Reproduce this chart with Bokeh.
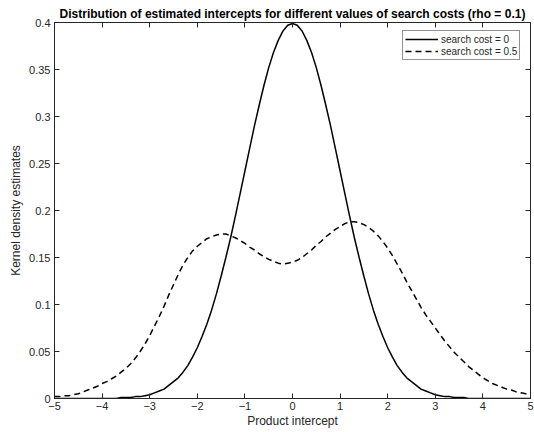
from bokeh.plotting import figure
from bokeh.models import (LinearAxis, FixedTicker, CustomJSTickFormatter, Legend,
                          LegendItem, Range1d, ColumnDataSource)
from bokeh.embed import file_html
from bokeh.resources import INLINE

# ---- data ----
x_vals = [-5.0, -4.9, -4.8, -4.7, -4.6, -4.5, -4.4, -4.3, -4.2, -4.1,
          -4.0, -3.9, -3.8, -3.7, -3.6, -3.5, -3.4, -3.3, -3.2, -3.1,
          -3.0, -2.9, -2.8, -2.7, -2.6, -2.5, -2.4, -2.3, -2.2, -2.1,
          -2.0, -1.9, -1.8, -1.7, -1.6, -1.5, -1.4, -1.3, -1.2, -1.1,
          -1.0, -0.9, -0.8, -0.7, -0.6, -0.5, -0.4, -0.3, -0.2, -0.1,
          0.0, 0.1, 0.2, 0.3, 0.4, 0.5, 0.6, 0.7, 0.8, 0.9,
          1.0, 1.1, 1.2, 1.3, 1.4, 1.5, 1.6, 1.7, 1.8, 1.9,
          2.0, 2.1, 2.2, 2.3, 2.4, 2.5, 2.6, 2.7, 2.8, 2.9,
          3.0, 3.1, 3.2, 3.3, 3.4, 3.5, 3.6, 3.7, 3.8, 3.9,
          4.0, 4.1, 4.2, 4.3, 4.4, 4.5, 4.6, 4.7, 4.8, 4.9, 5.0]

cost0_density = [0.000, 0.000, 0.000, 0.000, 0.000, 0.000, 0.000, 0.000, 0.000, 0.000,
                 0.000, 0.000, 0.000, 0.000, 0.001, 0.001, 0.001, 0.002, 0.002, 0.003,
                 0.004, 0.006, 0.008, 0.010, 0.014, 0.018, 0.022, 0.028, 0.035, 0.044,
                 0.054, 0.066, 0.079, 0.094, 0.111, 0.130, 0.150, 0.171, 0.194, 0.218,
                 0.242, 0.266, 0.290, 0.312, 0.333, 0.352, 0.368, 0.381, 0.391, 0.397,
                 0.399, 0.397, 0.391, 0.381, 0.368, 0.352, 0.333, 0.312, 0.290, 0.266,
                 0.242, 0.218, 0.194, 0.171, 0.150, 0.130, 0.111, 0.094, 0.079, 0.066,
                 0.054, 0.044, 0.035, 0.028, 0.022, 0.018, 0.014, 0.010, 0.008, 0.006,
                 0.004, 0.003, 0.002, 0.002, 0.001, 0.001, 0.001, 0.000, 0.000, 0.000,
                 0.000, 0.000, 0.000, 0.000, 0.000, 0.000, 0.000, 0.000, 0.000, 0.000, 0.000]

cost05_density = [0.002, 0.002, 0.003, 0.003, 0.004, 0.005, 0.007, 0.009, 0.011, 0.013,
                  0.016, 0.018, 0.021, 0.024, 0.028, 0.032, 0.037, 0.043, 0.050, 0.058,
                  0.067, 0.077, 0.087, 0.098, 0.110, 0.121, 0.132, 0.142, 0.150, 0.157,
                  0.162, 0.166, 0.170, 0.172, 0.174, 0.175, 0.175, 0.173, 0.171, 0.168,
                  0.165, 0.161, 0.158, 0.154, 0.151, 0.148, 0.146, 0.144, 0.143, 0.144,
                  0.145, 0.147, 0.150, 0.154, 0.158, 0.163, 0.167, 0.172, 0.176, 0.180,
                  0.183, 0.186, 0.188, 0.188, 0.187, 0.185, 0.182, 0.178, 0.173, 0.167,
                  0.160, 0.152, 0.143, 0.134, 0.124, 0.115, 0.106, 0.097, 0.089, 0.082,
                  0.075, 0.068, 0.061, 0.055, 0.049, 0.044, 0.039, 0.034, 0.030, 0.026,
                  0.022, 0.019, 0.016, 0.014, 0.012, 0.010, 0.009, 0.007, 0.006, 0.005, 0.004]

x_ticks = [-5, -4, -3, -2, -1, 0, 1, 2, 3, 4, 5]
y_ticks = [0, 0.05, 0.1, 0.15, 0.2, 0.25, 0.3, 0.35, 0.4]

series_labels = ["search cost = 0", "search cost = 0.5"]
title_text = "Distribution of estimated intercepts for different values of search costs (rho = 0.1)"
x_label = "Product intercept"
y_label = "Kernel density estimates"

FONT = "Liberation Sans"
AXC = "#262626"

p = figure(width=534, height=432, x_range=Range1d(-5, 5), y_range=Range1d(0, 0.4),
           output_backend="svg", toolbar_location=None,
           min_border_left=54, min_border_right=4, min_border_top=22, min_border_bottom=34)

p.title.text = title_text
p.title.text_font = FONT
p.title.text_font_size = "12px"
p.title.text_font_style = "bold"
p.title.text_color = "black"
p.title.align = "center"
p.title.standoff = 3
p.title.offset = 0

p.xgrid.visible = False
p.ygrid.visible = False
p.outline_line_color = AXC
p.outline_line_width = 1
p.background_fill_color = "white"
p.border_fill_color = "white"

yfmt = CustomJSTickFormatter(code="""
var s = tick.toFixed(2);
if (s.indexOf('.') >= 0) { s = s.replace(/0+$/, '').replace(/\\.$/, ''); }
return s;
""")
blankfmt = CustomJSTickFormatter(code="return '';")

def style_axis(ax):
    ax.major_tick_in = 5
    ax.major_tick_out = 0
    ax.minor_tick_in = 0
    ax.minor_tick_out = 0
    ax.axis_line_color = AXC
    ax.major_tick_line_color = AXC
    ax.major_label_text_font = FONT
    ax.major_label_text_font_size = "11px"
    ax.major_label_text_color = AXC
    ax.axis_label_text_font = FONT
    ax.axis_label_text_font_size = "12px"
    ax.axis_label_text_font_style = "normal"
    ax.axis_label_text_color = AXC

xa = p.xaxis[0]
xa.ticker = FixedTicker(ticks=x_ticks)
style_axis(xa)
xa.axis_label = x_label
xa.major_label_standoff = 3
xa.axis_label_standoff = 1

ya = p.yaxis[0]
ya.ticker = FixedTicker(ticks=y_ticks)
ya.formatter = yfmt
style_axis(ya)
ya.axis_label = y_label
ya.major_label_standoff = 4
ya.axis_label_standoff = 3

top = LinearAxis(ticker=FixedTicker(ticks=x_ticks), formatter=blankfmt)
style_axis(top)
top.major_label_standoff = 0
top.major_label_text_font_size = "1px"
p.add_layout(top, "above")
right = LinearAxis(ticker=FixedTicker(ticks=y_ticks), formatter=blankfmt)
style_axis(right)
right.major_label_standoff = 0
right.major_label_text_font_size = "1px"
p.add_layout(right, "right")

src = ColumnDataSource(dict(x=x_vals, s0=cost0_density, s1=cost05_density))
r0 = p.line("x", "s0", source=src, line_color="black", line_width=1.5)
r1 = p.line("x", "s1", source=src, line_color="black", line_width=1.5, line_dash="6 4")

legend = Legend(items=[LegendItem(label=series_labels[0], renderers=[r0]),
                       LegendItem(label=series_labels[1], renderers=[r1])],
                location=(348, 338))
legend.margin = 0
legend.padding = 2
legend.spacing = 0
legend.label_height = 12
legend.glyph_height = 12
legend.glyph_width = 33
legend.label_standoff = 3
legend.label_text_font = FONT
legend.label_text_font_size = "10px"
legend.label_text_color = AXC
legend.border_line_color = AXC
legend.border_line_width = 1
legend.background_fill_color = "white"
legend.background_fill_alpha = 1.0
p.add_layout(legend)

open("out.html", "w").write(file_html(p, INLINE))
